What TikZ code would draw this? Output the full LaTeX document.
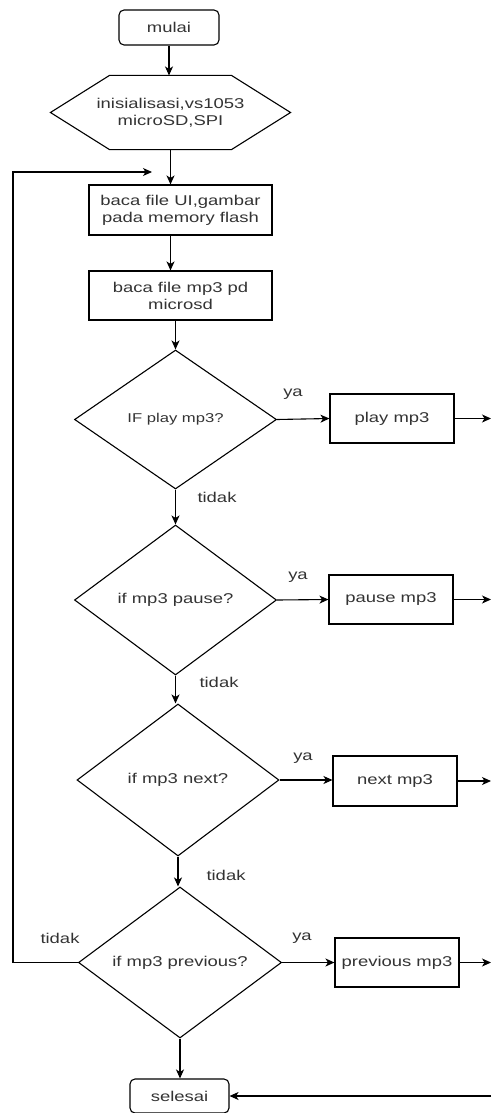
\documentclass[tikz,border=0pt]{standalone}
\usepackage{fontspec}
\setmainfont[FakeStretch=1.3]{Liberation Sans}
\usetikzlibrary{shapes.geometric,arrows.meta,calc}
\definecolor{txt}{RGB}{51,51,51}
\begin{document}
\begin{tikzpicture}[x=1pt,y=-1pt,
  every node/.style={font=\fontsize{14.2}{17}\selectfont, text=txt},
  base/.style={draw=black, line width=1.1pt, inner sep=0pt, align=center},
  term/.style={base, rounded corners=5pt, minimum width=100pt, minimum height=35pt},
  proc/.style={base, minimum width=183pt, minimum height=50pt},
  act/.style={base, minimum width=124pt, minimum height=49pt},
  dec/.style={base, diamond, aspect=1.4, minimum width=202pt, minimum height=140pt},
  lbl/.style={inner sep=0pt},
  flow/.style={line width=1.1pt, -{Stealth[length=9pt,width=8pt,inset=2.5pt]}}]
\useasboundingbox (0,0) rectangle (491,1113);

\node[term] (mulai) at (169,27.5) {mulai};
\node[base, draw=none, minimum width=239pt, minimum height=73pt] (init) at (170.5,112.5) {inisialisasi,vs1053\\microSD,SPI};
\draw[line width=1.1pt] (init.west) -- ($(init.north west)+(59,0)$) -- ($(init.north east)+(-59,0)$) -- (init.east) -- ($(init.south east)+(-59,0)$) -- ($(init.south west)+(59,0)$) -- cycle;
\node[proc] (ui) at (180.5,210) {baca file UI,gambar\\pada memory flash};
\node[proc, minimum height=49pt] (mp3) at (180.5,295.5) {baca file mp3 pd\\microsd};
\node[dec, minimum height=139pt, font=\fontsize{12.8}{15}\selectfont] (d1) at (175.5,419.5) {IF play mp3?};
\node[dec, minimum height=150pt] (d2) at (175.5,600) {if mp3 pause?};
\node[dec, minimum height=152pt] (d3) at (178,780) {if mp3 next?};
\node[dec, minimum width=203pt, minimum height=151pt] (d4) at (180,962.5) {if mp3 previous?};
\node[act] (play) at (392,418.5) {play mp3};
\node[act] (pause) at (391,599.5) {pause mp3};
\node[act, minimum height=50pt] (next) at (395,781) {next mp3};
\node[act] (prev) at (397,962.5) {previous mp3};
\node[term, minimum width=99pt, minimum height=34pt] (selesai) at (179.5,1096) {selesai};

\node[lbl] (ya1) at (293,394) {ya};
\node[lbl] (ya2) at (298,577) {ya};
\node[lbl] (ya3) at (303,758) {ya};
\node[lbl] (ya4) at (302,938) {ya};
\node[lbl] (t1) at (217,497) {tidak};
\node[lbl] (t2) at (219,682) {tidak};
\node[lbl] (t3) at (226,875) {tidak};
\node[lbl] (t4) at (60,938) {tidak};

\coordinate (looptip) at (152,172);
\coordinate (loopc) at (13,172);
\coordinate (r1) at (491,418.5);
\coordinate (r2) at (491,599.5);
\coordinate (r3) at (491,781);
\coordinate (r4) at (491,962.5);
\coordinate (rin) at (491,1096);

\draw[flow] (mulai.south) -- (mulai.south |- init.north);
\draw[flow] (init.south) -- (init.south |- ui.north);
\draw[flow] (init.south |- ui.south) -- (init.south |- mp3.north);
\draw[flow] (d1.north |- mp3.south) -- (d1.north);
\draw[flow] (d1.south) -- (d2.north);
\draw[flow] (d2.south) -- (d2.south |- d3.north);
\draw[flow] (d3.south) -- (d3.south |- d4.north);
\draw[flow] (d4.south) -- (d4.south |- selesai.north);
\draw[flow] (d1.east) -- (play.west);
\draw[flow] (d2.east) -- (pause.west);
\draw[flow] (d3.east) -- (d3.east -| next.west);
\draw[flow] (d4.east) -- (prev.west);
\draw[flow] (play.east) -- (r1);
\draw[flow] (pause.east) -- (r2);
\draw[flow] (next.east) -- (r3);
\draw[flow] (prev.east) -- (r4);
\draw[flow] (rin) -- (selesai.east);
\draw[flow] (d4.west) -| (loopc) -- (looptip);
\end{tikzpicture}
\end{document}
